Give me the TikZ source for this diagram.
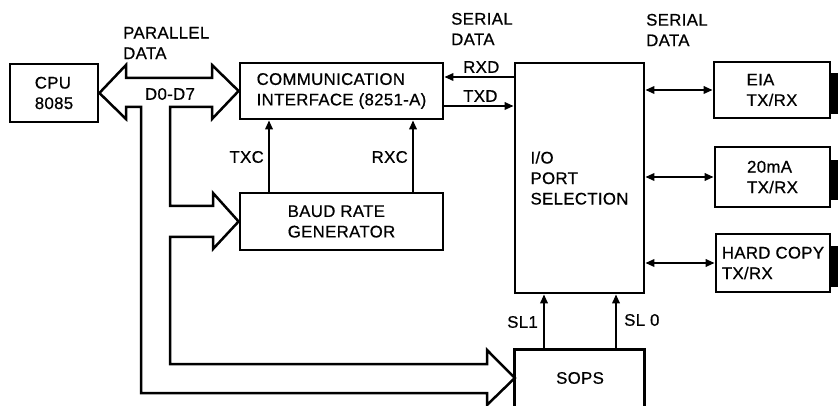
\documentclass[tikz,border=0pt]{standalone}
\usepackage{fontspec}
\setmainfont{Liberation Sans}[LetterSpace=2,FakeBold=0.6]
\usetikzlibrary{arrows.meta}
\begin{document}
\begin{tikzpicture}[x=1pt,y=-1pt,
  every node/.style={font=\fontsize{16.8}{20.5}\selectfont, inner sep=0pt},
  blk/.style={draw, line width=2.8pt, align=left},
  arr/.style={line width=1.9pt, -{Triangle[length=9pt,width=7.5pt]}},
  darr/.style={line width=1.9pt, {Triangle[length=9pt,width=7.5pt]}-{Triangle[length=9pt,width=7.5pt]}},
  bus/.style={line width=2.5pt, line join=miter},
  lbl/.style={align=left}]
\clip (0,0) rectangle (838,406);
\fill[white] (0,0) rectangle (838,406);
% boxes
\node[blk, minimum width=88pt, minimum height=58pt] (cpu) at (54,93) {CPU\\8085};
\node[blk, minimum width=203pt, minimum height=56pt] (comm) at (341.5,91) {COMMUNICATION\\INTERFACE (8251-A)};
\node[blk, minimum width=203pt, minimum height=57pt] (baud) at (341.5,221.5) {BAUD RATE\\GENERATOR};
\node[blk, minimum width=129pt, minimum height=230pt] (io) at (579.5,178) {I/O\\PORT\\SELECTION};
\node[blk, minimum width=116pt, minimum height=56pt] (eia) at (772,90) {EIA\\TX/RX};
\node[blk, minimum width=115pt, minimum height=60pt] (ma) at (772.5,177) {20mA\\TX/RX};
\node[blk, minimum width=114pt, minimum height=58pt] (hc) at (773,263) {HARD COPY\\TX/RX};
\node[minimum width=129pt, minimum height=70pt] (sops) at (579.5,385) {};
\node at (580,378) {SOPS};
\draw[line width=2.8pt] (sops.south west) |- (sops.north east) -- (sops.south east);
% connector bars
\fill (eia.east |- 0,73) rectangle (838,114);
\fill (ma.east |- 0,160) rectangle (838,200);
\fill (hc.east |- 0,246) rectangle (838,287);
% bus (hollow arrows)
\draw[bus] (cpu.east) -- (126,65) -- (126,78) -- (212,78) -- (212,65) -- (comm.west)
  -- (212,119) -- (212,107) -- (170,107) -- (170,206) -- (213,206) -- (213,193)
  -- (baud.west) -- (213,249) -- (213,237) -- (170,237) -- (170,364) -- (487,364)
  -- (487,350) -- (sops.north west |- 0,378) -- (487,405) -- (487,393) -- (141,393)
  -- (141,107) -- (126,107) -- (126,119) -- cycle;
% arrows
\draw[arr] (baud.north -| 269,0) -- (comm.south -| 269,0);
\draw[arr] (baud.north -| 413,0) -- (comm.south -| 413,0);
\draw[arr] (io.west |- 0,77) -- (comm.east |- 0,77);
\draw[arr] (comm.east |- 0,106) -- (io.west |- 0,106);
\draw[darr] (io.east |- eia.west) -- (eia.west);
\draw[darr] (io.east |- ma.west) -- (ma.west);
\draw[darr] (io.east |- hc.west) -- (hc.west);
\draw[arr] (sops.north -| 544,0) -- (io.south -| 544,0);
\draw[arr] (sops.north -| 616,0) -- (io.south -| 616,0);
% labels
\node[lbl, anchor=west] at (123,43) {PARALLEL\\DATA};
\node at (170,94) {D0-D7};
\node[lbl, anchor=west] at (451,29) {SERIAL\\DATA};
\node[lbl, anchor=west] at (646,30) {SERIAL\\DATA};
\node[anchor=west] at (463,67) {RXD};
\node[anchor=west] at (463,96) {TXD};
\node[anchor=east] at (264,157) {TXC};
\node[anchor=east] at (408,157) {RXC};
\node[anchor=east] at (538,322) {SL1};
\node[anchor=west] at (624,320) {SL 0};
\end{tikzpicture}
\end{document}
